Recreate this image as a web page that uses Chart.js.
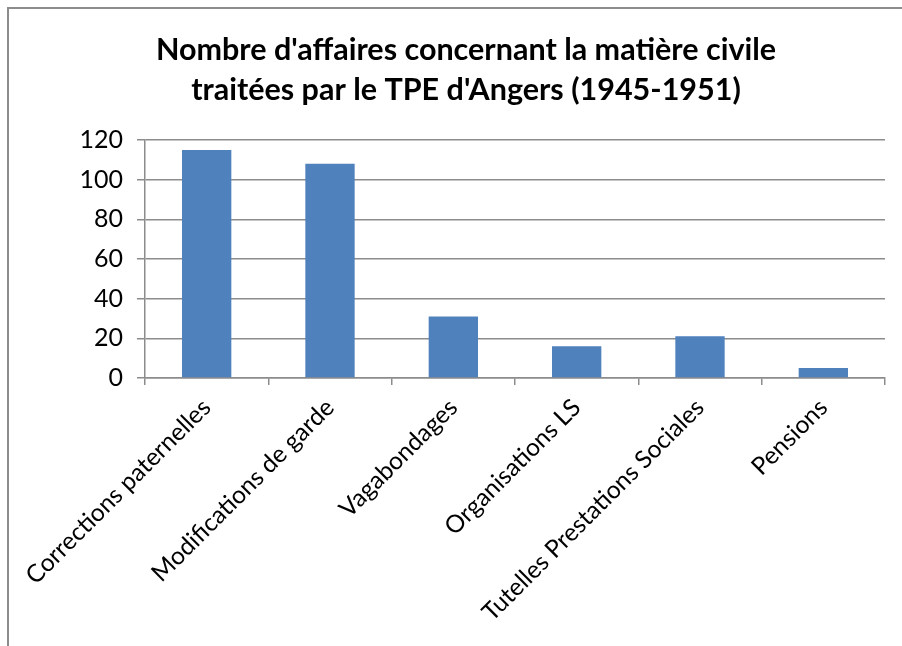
<!DOCTYPE html>
<html lang="fr">
<head>
<meta charset="utf-8">
<title>TPE d'Angers - matière civile</title>
<script src="https://cdn.jsdelivr.net/npm/chart.js@4/dist/chart.umd.min.js"></script>
<style>
  html, body { margin: 0; padding: 0; background: #fff; }
  #wrap { position: relative; width: 902px; height: 646px; overflow: hidden; }
  #frame {
    position: absolute; left: 7px; top: 7px; right: -10px; bottom: -10px;
    border-top: 2px solid #8c8c8c; border-left: 2px solid #8c8c8c;
    pointer-events: none;
  }
  canvas { display: block; }
</style>
</head>
<body>
<div id="wrap">
  <canvas id="civilChart" width="902" height="646"></canvas>
  <div id="frame"></div>
</div>
<script>
/* --------- données --------- */
const categories = [
  "Corrections paternelles",
  "Modifications de garde",
  "Vagabondages",
  "Organisations LS",
  "Tutelles Prestations Sociales",
  "Pensions",
];
const affaires = [115, 108, 31, 16, 21, 5];
const yTicks = [0, 20, 40, 60, 80, 100, 120];
const titleLines = [
  "Nombre d'affaires concernant la matière civile",
  "traitées par le TPE d'Angers (1945-1951)",
];

/* --------- styles communs --------- */
const FONT = "Lato, 'Open Sans', sans-serif";
const GRID = "#8c8c8c";
const BAR = "#4f81bd";

/* --------- graphique --------- */
new Chart(document.getElementById("civilChart"), {
  type: "bar",
  data: {
    labels: categories,
    datasets: [
      {
        data: affaires,
        backgroundColor: BAR,
        borderWidth: 0,
        barPercentage: 0.4,
        categoryPercentage: 1,
      },
    ],
  },
  options: {
    responsive: false,
    animation: false,
    layout: { padding: { left: 47, right: 17, top: 0, bottom: 0 } },
    plugins: {
      legend: { display: false },
      tooltip: { enabled: false },
      title: {
        display: true,
        text: titleLines,
        color: "#000",
        font: { family: FONT, size: 30.5, weight: "bold", lineHeight: 40 / 30.5 },
        padding: { top: 30, bottom: 30 },
      },
    },
    scales: {
      x: {
        grid: {
          offset: true,
          drawOnChartArea: false,
          drawTicks: true,
          tickLength: 7,
          tickColor: GRID,
          lineWidth: 1.5,
        },
        border: { color: GRID, width: 1.5 },
        ticks: {
          color: "#000",
          font: { family: FONT, size: 24.5 },
          minRotation: 45,
          maxRotation: 45,
          padding: 8,
          autoSkip: false,
        },
        // hauteur fixe de l'axe pour caler la zone de tracé
        afterFit: (s) => { s.height = 646 - 378; },
      },
      y: {
        min: 0,
        max: 120,
        afterBuildTicks: (s) => { s.ticks = yTicks.map((v) => ({ value: v })); },
        grid: {
          color: GRID,
          lineWidth: 1.5,
          tickLength: 8,
          tickColor: GRID,
        },
        border: { color: GRID, width: 1.5 },
        ticks: {
          color: "#000",
          font: { family: FONT, size: 25 },
          padding: 14,
        },
        afterFit: (s) => { s.width = 98; },
      },
    },
  },
});
</script>
</body>
</html>
